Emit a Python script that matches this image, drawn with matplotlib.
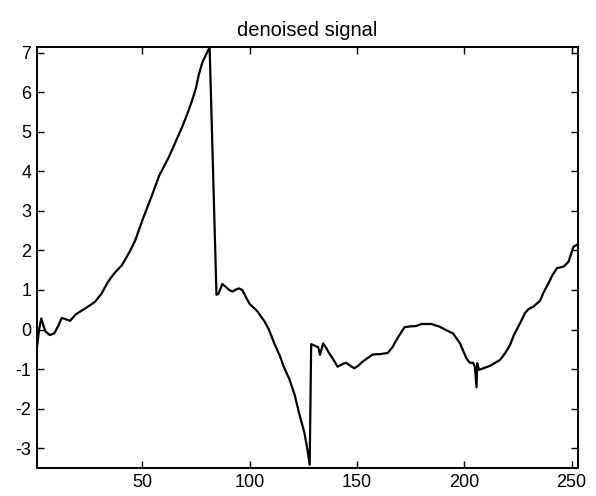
import matplotlib
matplotlib.use("Agg")
import matplotlib.pyplot as plt

# sample index / signal value
idx = [1, 2, 3, 4, 5, 7, 9, 11, 12.5, 14, 16.4, 19, 21, 24, 28, 31, 34, 37,
       40.6, 44.5, 46.8, 50, 54.6, 58, 62.4, 66, 68.6, 71, 73.3, 75, 76.4, 78,
       80, 81.4, 84.6, 85.5, 87.3, 88.9, 90.5, 92, 94, 95.1, 96.6, 98.5, 100,
       103.5, 107, 109, 111.5, 114, 116, 118.5, 121, 123, 125.5, 127, 128,
       128.7, 130.9, 132, 132.8, 134.3, 135.5, 137.1, 138.7, 141, 143, 144.9,
       147, 148.8, 150.5, 152.7, 155, 157.4, 161, 164.4, 166.5, 168.3, 170.5,
       172.2, 175, 177.7, 180, 184.7, 188.6, 191, 194.8, 198, 201, 202.6,
       204.1, 204.9, 205.7, 206, 206.9, 208.8, 211.9, 216.6, 219, 221.3, 223,
       225.1, 226.7, 228.3, 230, 232.2, 235.3, 237, 239.2, 241, 243.1, 246.2,
       248.5, 250.8, 253]
signal = [-0.45, 0.0, 0.28, 0.1, -0.05, -0.14, -0.1, 0.1, 0.29, 0.27, 0.22,
          0.38, 0.45, 0.55, 0.70, 0.9, 1.2, 1.42, 1.63, 2.0, 2.26, 2.75, 3.4,
          3.9, 4.36, 4.8, 5.12, 5.45, 5.8, 6.1, 6.45, 6.75, 6.98, 7.14, 0.88,
          0.9, 1.15, 1.08, 1.0, 0.96, 1.02, 1.04, 1.0, 0.8, 0.65, 0.47, 0.2,
          0.0, -0.35, -0.65, -0.95, -1.25, -1.65, -2.1, -2.6, -3.05, -3.42,
          -0.37, -0.42, -0.45, -0.64, -0.35, -0.45, -0.6, -0.73, -0.94, -0.88,
          -0.84, -0.92, -0.98, -0.92, -0.81, -0.72, -0.63, -0.62, -0.59, -0.45,
          -0.27, -0.08, 0.06, 0.08, 0.09, 0.14, 0.14, 0.07, 0.0, -0.1, -0.35,
          -0.73, -0.84, -0.84, -0.94, -1.46, -0.85, -1.02, -0.98, -0.92, -0.77,
          -0.6, -0.39, -0.15, 0.07, 0.24, 0.42, 0.52, 0.58, 0.73, 0.95, 1.17,
          1.37, 1.55, 1.59, 1.71, 2.09, 2.16]

xticks = [50, 100, 150, 200, 250]
yticks = [-3, -2, -1, 0, 1, 2, 3, 4, 5, 6, 7]

plt.rcParams["font.family"] = ["Liberation Sans", "DejaVu Sans"]
plt.rcParams["axes.unicode_minus"] = False

fig = plt.figure(figsize=(5.96, 4.96), dpi=100)
ax = fig.add_axes([0.062, 0.0565, 0.908, 0.8485])

ax.plot(idx, signal, color="black", linewidth=1.6)

ax.set_xlim(1, 253)
ax.set_ylim(-3.5, 7.14)
ax.set_xticks(xticks)
ax.set_yticks(yticks)
ax.tick_params(direction="in", length=5, width=1, top=True, right=True,
               labelsize=13, pad=4)
for sp in ax.spines.values():
    sp.set_linewidth(1.4)

ax.set_title("denoised signal", fontsize=14.5, pad=8)

fig.savefig("out.png", dpi=100)
